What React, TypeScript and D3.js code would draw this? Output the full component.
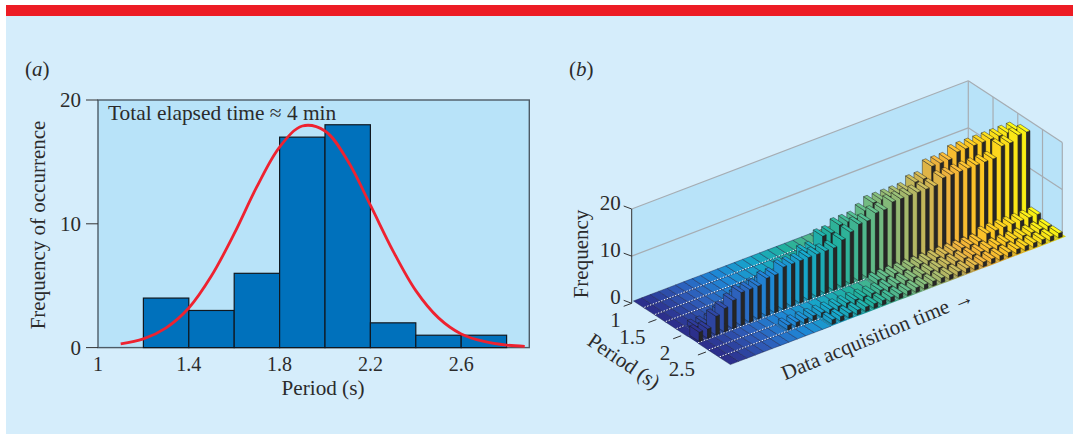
import React from 'react';
import * as d3 from 'd3';

// panel (a): histogram of the period
const binEdges = [1.2, 1.4, 1.6, 1.8, 2.0, 2.2, 2.4, 2.6];
const binCounts = [4, 3, 6, 17, 18, 2, 1, 1];
const fitPeriods = [1.1, 1.2, 1.3, 1.4, 1.5, 1.6, 1.7, 1.8, 1.9, 2.0, 2.1, 2.2, 2.3, 2.4, 2.5, 2.6, 2.7, 2.8, 2.88];
const fitValues = [0.3, 0.7, 1.6, 3.2, 5.8, 9.2, 13, 16.2, 17.9, 17.5, 15.1, 11.5, 7.8, 4.6, 2.4, 1.1, 0.5, 0.2, 0.1];
const xTicksA = [1, 1.4, 1.8, 2.2, 2.6];
const yTicksA = [0, 10, 20];

// panel (b): counts per period row (back to front), one value per time column
const row10 = [0,0,0,0,0,0,0,0,0,0,0,0,0,0,0,0,0,0,0,0,0,0,0,0,0,0,0,0,0,0,0,0,0,0,0,0,0,0,0,0];
const row12 = [0,0,0,0,0,0,0,0,0,0,0,0,0,0,0,0,0,0,0,0,0,0,1,1,1,1,2,2,2,2,3,3,3,3,3,4,4,4,4,4];
const row14 = [0,0,0,0,0,0,0,0,0,0,0,0,0,0,0,0,0,0,0,0,1,1,1,1,1,1,1,2,2,2,2,2,2,2,3,3,3,3,3,3];
const row16 = [0,0,0,0,0,0,0,0,0,0,0,0,0,0,0,0,0,0,1,1,1,2,2,2,2,3,3,3,3,4,4,4,5,5,5,5,6,6,6,6];
const row18 = [0,1,1,1,2,2,4,4,5,5,5,5,5,5,8,8,10,10,11,11,11,12,13,13,13,13,13,14,14,16,16,16,17,17,17,17,17,17,17,17];
const row20 = [2,2,4,5,6,7,7,7,8,8,9,9,9,9,9,9,9,10,11,12,12,13,13,14,14,14,14,14,14,15,15,15,15,15,15,15,17,17,18,18];
const row22 = [0,0,0,0,0,0,0,0,0,0,0,0,0,0,0,0,0,0,0,0,1,1,1,1,1,1,1,1,1,1,1,1,1,2,2,2,2,2,2,2];
const row24 = [0,0,0,0,0,0,0,0,1,1,1,1,1,1,1,1,1,1,1,1,1,1,1,1,1,1,1,1,1,1,1,1,1,1,1,1,1,1,1,1];
const row26 = [0,0,0,0,0,0,0,0,0,0,0,0,1,1,1,1,1,1,1,1,1,1,1,1,1,1,1,1,1,1,1,1,1,1,1,1,1,1,1,1];
const rows = [row10, row12, row14, row16, row18, row20, row22, row24, row26];
const periodTicks = [1, 1.5, 2, 2.5];
const zTicks = [0, 10, 20];
const colorStops = ['#2c2f8c', '#2f5cb8', '#1f86d6', '#17a5c8', '#22b19c', '#6dba83', '#b4b764', '#f2b23a', '#ffcb1f', '#f8ee14'];

const serif = '"Liberation Serif", serif';
const ink = '#2b2b2b';

// panel (a) scales
const x = d3.scaleLinear().domain([1, 2.9]).range([98, 529.3]);
const y = d3.scaleLinear().domain([0, 20]).range([347.6, 100]);
const fitLine = d3.line<number>()
  .x((d) => x(d))
  .y((_, i) => y(fitValues[i]))
  .curve(d3.curveCatmullRom);

// panel (b) projection: three edges of the box as pixel vectors
const origin = [631.7, 303.3];
const timeVec = [336.6, -128.3];
const periodVec = [94, 61.7];
const zVec = -94.3;
const nCols = row20.length;
const colIds = d3.range(nCols);
const rowIds = d3.range(rows.length);
const tBand = d3.scaleBand<number>().domain(colIds).range([0.0172, 1]).paddingInner(0.58);
const pBand = d3.scaleBand<number>().domain(rowIds).range([-0.017, 1]).paddingInner(0.12);
const pAxis = d3.scaleLinear().domain([1, 2.9]).range([0, 1]);
const zAxis = d3.scaleLinear().domain([0, 20]).range([0, 1]);
const color = d3.scaleLinear<string>()
  .domain(colorStops.map((_, i) => (i * (nCols - 1)) / (colorStops.length - 1)))
  .range(colorStops);

const proj = (a: number, b: number, z = 0) => [
  origin[0] + a * timeVec[0] + b * periodVec[0],
  origin[1] + a * timeVec[1] + b * periodVec[1] + zAxis(z) * zVec,
];
const poly = (pts: number[][]) => pts.map((p) => p.map((v) => v.toFixed(2)).join(',')).join(' ');

function Bar3D({ r, c }: { r: number; c: number }) {
  const h = rows[r][c];
  const a0 = tBand(c)!;
  const a1 = a0 + tBand.bandwidth();
  const b0 = pBand(r)!;
  const b1 = b0 + pBand.bandwidth();
  const col = color(c);
  const top = poly([proj(a0, b0, h), proj(a1, b0, h), proj(a1, b1, h), proj(a0, b1, h)]);
  return (
    <g stroke="#1d1d1d" strokeWidth={0.45} strokeLinejoin="round">
      <polygon points={poly([proj(a0, b0, 0), proj(a0, b1, 0), proj(a0, b1, h), proj(a0, b0, h)])} fill={col} />
      <polygon points={poly([proj(a0, b1, 0), proj(a1, b1, 0), proj(a1, b1, h), proj(a0, b1, h)])} fill="#262626" />
      <polygon points={top} fill={d3.color(col)!.brighter(0.15).formatHex()} />
    </g>
  );
}

function FloorCell({ r, c }: { r: number; c: number }) {
  const step = tBand.step();
  const a0 = tBand(c)! - (step - tBand.bandwidth()) / 2;
  const a1 = a0 + step;
  const b0 = pBand(r)!;
  const b1 = b0 + pBand.step();
  const empty = rows[r][c] === 0;
  return (
    <polygon
      points={poly([proj(a0, b0), proj(a1, b0), proj(a1, b1), proj(a0, b1)])}
      fill={empty ? color(c) : d3.color(color(c))!.darker(0.4).formatHex()}
      stroke={empty ? 'rgba(25,30,70,0.55)' : 'none'}
      strokeWidth={0.8}
    />
  );
}

function PanelA() {
  return (
    <g fontFamily={serif} fill={ink}>
      <text x={25} y={76} fontSize={21}>(<tspan fontStyle="italic">a</tspan>)</text>
      <rect x={x(1)} y={y(20)} width={x(2.9) - x(1)} height={y(0) - y(20)} fill="#b8e3f9" stroke="#4d5b66" strokeWidth={1.4} />
      {yTicksA.map((t) => (
        <g key={t}>
          <line x1={86} x2={x(1)} y1={y(t)} y2={y(t)} stroke="#333" strokeWidth={1} />
          <text x={81} y={y(t)} fontSize={21} textAnchor="end" dominantBaseline="central">{t}</text>
        </g>
      ))}
      {xTicksA.map((t) => (
        <text key={t} x={x(t)} y={371} fontSize={20} textAnchor="middle">{t}</text>
      ))}
      {binCounts.map((d, i) => (
        <rect key={i} x={x(binEdges[i])} y={y(d)} width={x(1.4) - x(1.2)} height={y(0) - y(d)} fill="#0071bc" stroke="#101820" strokeWidth={1.2} />
      ))}
      <path d={fitLine(fitPeriods) ?? ''} fill="none" stroke="#ee2230" strokeWidth={2.8} />
      <text x={108} y={120} fontSize={21.4}>Total elapsed time ≈ 4 min</text>
      <text x={323} y={395} fontSize={21.2} textAnchor="middle">Period (s)</text>
      <text transform="translate(45,225) rotate(-90)" fontSize={21} textAnchor="middle">Frequency of occurrence</text>
    </g>
  );
}

function PanelB() {
  const wallBack = [proj(0, 0), proj(1, 0), proj(1, 0, 20), proj(0, 0, 20)];
  const wallSide = [proj(1, 0), proj(1, 1), proj(1, 1, 20), proj(1, 0, 20)];
  const seg = (p: number[], q: number[], k: string | number) => (
    <line key={k} x1={p[0]} y1={p[1]} x2={q[0]} y2={q[1]} stroke="#a6adb3" strokeWidth={1.2} />
  );
  const gaps: React.ReactNode[] = [];
  rowIds.slice(1).forEach((r) => {
    const b = pBand(r)! - (pBand.step() - pBand.bandwidth()) / 2;
    colIds.filter((c) => rows[r][c] === 0).forEach((c) => {
      const p = proj(tBand(c)! - 0.005, b);
      const q = proj(tBand(c)! + tBand.step() - 0.005, b);
      gaps.push(
        <line key={`${r}-${c}`} x1={p[0]} y1={p[1]} x2={q[0]} y2={q[1]} stroke="#fff" strokeWidth={1} strokeDasharray="1.4 1.6" />
      );
    });
  });
  return (
    <g fontFamily={serif} fill={ink}>
      <text x={569} y={76} fontSize={21}>(<tspan fontStyle="italic">b</tspan>)</text>
      <polygon points={poly(wallBack)} fill="#b8e3f9" />
      <polygon points={poly(wallSide)} fill="#b8e3f9" />
      {seg(proj(0, 0, 20), proj(1, 0, 20), 'top')}
      {seg(proj(0, 0, 10), proj(1, 0, 10), 'mid')}
      {seg(proj(1, 0, 20), proj(1, 0), 'corner')}
      {seg(proj(1, 0, 20), proj(1, 1, 20), 'sideTop')}
      {seg(proj(1, 0, 10), proj(1, 1, 10), 'sideMid')}
      {seg(proj(1, 1, 20), proj(1, 1), 'edge')}
      {periodTicks.slice(1).map((t) => seg(proj(1, pAxis(t), 20), proj(1, pAxis(t)), t))}
      <line x1={origin[0]} y1={proj(0, 0, 20)[1]} x2={origin[0]} y2={origin[1]} stroke="#333" strokeWidth={1} />
      {zTicks.map((t) => {
        const p = proj(0, 0, t);
        return (
          <g key={t}>
            <line x1={p[0]} y1={p[1]} x2={p[0] - 8} y2={p[1] - 3} stroke="#333" strokeWidth={1} />
            <text x={p[0] - 11} y={p[1] - 6} fontSize={21} textAnchor="end" dominantBaseline="central">{t}</text>
          </g>
        );
      })}
      {periodTicks.map((t) => {
        const p = proj(0, pAxis(t));
        return (
          <g key={t}>
            <line x1={p[0]} y1={p[1]} x2={p[0] - 8} y2={p[1] + 3} stroke="#333" strokeWidth={1} />
            <text x={p[0] - 11} y={p[1] + 17} fontSize={21} textAnchor="end" dominantBaseline="central">{t}</text>
          </g>
        );
      })}
      {rowIds.map((r) => colIds.map((c) => <FloorCell key={`${r}-${c}`} r={r} c={c} />))}
      {gaps}
      {rowIds.map((r) =>
        colIds.slice().reverse().filter((c) => rows[r][c] > 0).map((c) => <Bar3D key={`${r}-${c}`} r={r} c={c} />)
      )}
      <text transform="translate(588,254) rotate(-90)" fontSize={21} textAnchor="middle">Frequency</text>
      <text transform="translate(620,367) rotate(34)" fontSize={21} textAnchor="middle">Period (s)</text>
      <text transform="translate(880,341) rotate(-22.5)" fontSize={21} textAnchor="middle">Data acquisition time →</text>
    </g>
  );
}

export default function App() {
  return (
    <svg width={1073} height={434} style={{ position: 'absolute', left: 0, top: 0 }}>
      <rect width={1073} height={434} fill="#fff" />
      <rect x={6} y={16} width={1067} height={418} fill="#d5edfb" />
      <rect x={6} y={5} width={1067} height={11} fill="#ed1c24" />
      <PanelA />
      <PanelB />
    </svg>
  );
}
